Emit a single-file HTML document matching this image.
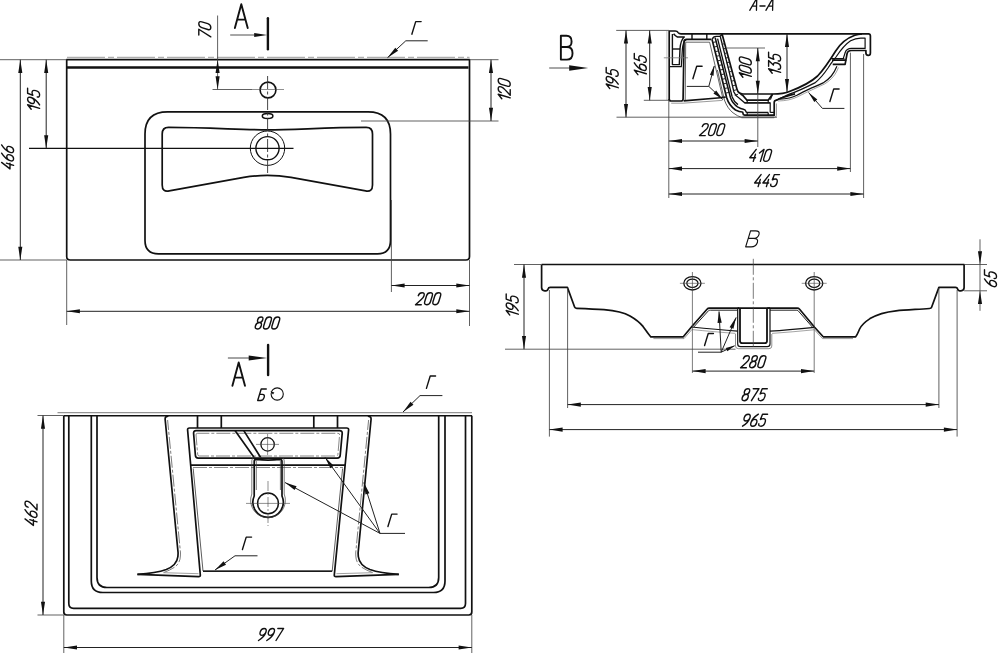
<!DOCTYPE html>
<html><head><meta charset="utf-8"><title>Drawing</title>
<style>
html,body{margin:0;padding:0;background:#fff;}
body{width:1000px;height:653px;overflow:hidden;font-family:"Liberation Sans",sans-serif;}
svg{display:block}
</style></head><body>
<svg width="1000" height="653" viewBox="0 0 1000 653" stroke-linecap="butt" stroke-linejoin="round">
<rect x="0" y="0" width="1000" height="653" fill="#ffffff"/>
<line x1="67" y1="57.3" x2="469.5" y2="57.3" stroke="#555" stroke-width="0.6" stroke-dasharray="38 3 6 3"/>
<path d="M66.7,59.7 H469.5 V256.5 Q469.5,260 466,260 H70.2 Q66.7,260 66.7,256.5 Z" stroke="#111111" stroke-width="1.7" fill="none" />
<line x1="67" y1="67.4" x2="468.5" y2="67.4" stroke="#111111" stroke-width="2.5" />
<path d="M145,134 Q145,111.8 167.5,111.8 H368 Q390.5,111.8 390.5,134 V240.5 Q390.5,253.8 377.5,253.8 H158.5 Q145,253.8 145,240.5 Z" stroke="#111111" stroke-width="1.7" fill="none" />
<path d="M162.2,134 Q162.2,127.4 168.5,127.4 C210,127.5 240,129.8 267.4,129.8 C295,129.8 325,127.5 366.2,127.4 Q372.5,127.4 372.5,134 L372.5,185 Q372.5,192.4 365.6,190.9 L291,177.3 Q267.4,173.6 243.8,177.3 L169.2,190.9 Q162.2,192.4 162.2,185 Z" stroke="#111111" stroke-width="1.7" fill="none" />
<circle cx="268" cy="90" r="7.9" stroke="#111111" stroke-width="1.6" fill="none"/>
<line x1="252" y1="89.5" x2="284" y2="89.5" stroke="#444" stroke-width="0.6" />
<ellipse cx="267.6" cy="116" rx="5.3" ry="2.5" stroke="#111111" stroke-width="1.5" fill="none"/>
<circle cx="267.5" cy="148.2" r="17.2" stroke="#111111" stroke-width="1.0" fill="none"/>
<circle cx="267.5" cy="148.2" r="11.6" stroke="#111111" stroke-width="1.35" fill="none"/>
<line x1="267.6" y1="76" x2="267.6" y2="173" stroke="#333" stroke-width="0.9" stroke-dasharray="13 2.5 3 2.5"/>
<line x1="29" y1="148.4" x2="293.5" y2="148.4" stroke="#111" stroke-width="1.15" />
<line x1="0" y1="59.7" x2="66.7" y2="59.7" stroke="#444444" stroke-width="0.85" />
<line x1="0" y1="260" x2="66.7" y2="260" stroke="#444444" stroke-width="0.85" />
<line x1="20.3" y1="59.7" x2="20.3" y2="260" stroke="#222" stroke-width="1.0" />
<polygon points="20.30,59.70 22.35,72.90 18.25,72.90" fill="#111"/>
<polygon points="20.30,260.00 18.25,246.80 22.35,246.80" fill="#111"/>
<g transform="translate(13.60,157.00) rotate(-90) scale(1.2000) skewX(-17)" stroke="#111" stroke-width="1.167" fill="none" stroke-linecap="round" stroke-linejoin="round">
<path transform="translate(-10.829,-10) scale(0.96,1)" d="M3.4,0 L0,7 L5,7 M4,4 L4,10" vector-effect="non-scaling-stroke" style="stroke-width:1.4"/>
<path transform="translate(-3.929,-10) scale(0.96,1)" d="M4.2,0 Q0,3.2 0,7.1 Q0,10 2.5,10 Q5,10 5,7.15 Q5,4.3 2.5,4.3 Q0.6,4.3 0.05,6.4" vector-effect="non-scaling-stroke" style="stroke-width:1.4"/>
<path transform="translate(2.971,-10) scale(0.96,1)" d="M4.2,0 Q0,3.2 0,7.1 Q0,10 2.5,10 Q5,10 5,7.15 Q5,4.3 2.5,4.3 Q0.6,4.3 0.05,6.4" vector-effect="non-scaling-stroke" style="stroke-width:1.4"/>
</g>
<line x1="46.2" y1="59.7" x2="46.2" y2="148.4" stroke="#222" stroke-width="1.0" />
<polygon points="46.20,59.70 48.25,72.90 44.15,72.90" fill="#111"/>
<polygon points="46.20,148.40 44.15,135.20 48.25,135.20" fill="#111"/>
<g transform="translate(39.60,100.00) rotate(-90) scale(1.2000) skewX(-17)" stroke="#111" stroke-width="1.167" fill="none" stroke-linecap="round" stroke-linejoin="round">
<path transform="translate(-9.869,-10) scale(0.96,1)" d="M0,3 L3,0 L3,10" vector-effect="non-scaling-stroke" style="stroke-width:1.4"/>
<path transform="translate(-4.889,-10) scale(0.96,1)" d="M0.8,10 Q5,6.8 5,2.9 Q5,0 2.5,0 Q0,0 0,2.85 Q0,5.7 2.5,5.7 Q4.4,5.7 4.95,3.6" vector-effect="non-scaling-stroke" style="stroke-width:1.4"/>
<path transform="translate(2.011,-10) scale(0.96,1)" d="M5,0 L0.6,0 L0.2,4.4 Q1.3,3.7 2.5,3.7 Q5,3.7 5,6.8 Q5,10 2.5,10 Q0,10 0,8" vector-effect="non-scaling-stroke" style="stroke-width:1.4"/>
</g>
<line x1="217.6" y1="15.5" x2="217.6" y2="89.5" stroke="#444444" stroke-width="0.85" />
<line x1="212.5" y1="89.5" x2="252" y2="89.5" stroke="#444444" stroke-width="0.85" />
<polygon points="217.60,59.70 219.65,72.90 215.55,72.90" fill="#111"/>
<polygon points="217.60,89.50 215.55,76.30 219.65,76.30" fill="#111"/>
<g transform="translate(210.80,29.80) rotate(-90) scale(1.2000) skewX(-17)" stroke="#111" stroke-width="1.167" fill="none" stroke-linecap="round" stroke-linejoin="round">
<path transform="translate(-7.379,-10) scale(0.96,1)" d="M0,0 L5,0 L1.6,10" vector-effect="non-scaling-stroke" style="stroke-width:1.4"/>
<path transform="translate(-0.479,-10) scale(0.96,1)" d="M0,2.5 Q0,0 2.5,0 Q5,0 5,2.5 L5,7.5 Q5,10 2.5,10 Q0,10 0,7.5 Z" vector-effect="non-scaling-stroke" style="stroke-width:1.4"/>
</g>
<line x1="469.5" y1="59.7" x2="498.5" y2="59.7" stroke="#444444" stroke-width="0.85" />
<line x1="361" y1="121" x2="498.5" y2="121" stroke="#444444" stroke-width="0.85" />
<line x1="491" y1="59.7" x2="491" y2="121" stroke="#222" stroke-width="1.0" />
<polygon points="491.00,59.70 493.05,72.90 488.95,72.90" fill="#111"/>
<polygon points="491.00,121.00 488.95,107.80 493.05,107.80" fill="#111"/>
<g transform="translate(510.20,89.50) rotate(-90) scale(1.2000) skewX(-17)" stroke="#111" stroke-width="1.167" fill="none" stroke-linecap="round" stroke-linejoin="round">
<path transform="translate(-9.869,-10) scale(0.96,1)" d="M0,3 L3,0 L3,10" vector-effect="non-scaling-stroke" style="stroke-width:1.4"/>
<path transform="translate(-4.889,-10) scale(0.96,1)" d="M0,2.5 Q0,0 2.5,0 Q5,0 5,2.5 Q5,4 3.6,5.6 L0,10 L5,10" vector-effect="non-scaling-stroke" style="stroke-width:1.4"/>
<path transform="translate(2.011,-10) scale(0.96,1)" d="M0,2.5 Q0,0 2.5,0 Q5,0 5,2.5 L5,7.5 Q5,10 2.5,10 Q0,10 0,7.5 Z" vector-effect="non-scaling-stroke" style="stroke-width:1.4"/>
</g>
<line x1="391.4" y1="200" x2="391.4" y2="292" stroke="#444444" stroke-width="0.85" />
<line x1="469.5" y1="260" x2="469.5" y2="326" stroke="#444444" stroke-width="0.85" />
<line x1="391.4" y1="285.5" x2="469.5" y2="285.5" stroke="#222" stroke-width="1.0" />
<polygon points="391.40,285.50 404.60,283.45 404.60,287.55" fill="#111"/>
<polygon points="469.50,285.50 456.30,287.55 456.30,283.45" fill="#111"/>
<g transform="translate(428.50,304.70) rotate(0) scale(1.2000) skewX(-17)" stroke="#111" stroke-width="1.167" fill="none" stroke-linecap="round" stroke-linejoin="round">
<path transform="translate(-10.829,-10) scale(0.96,1)" d="M0,2.5 Q0,0 2.5,0 Q5,0 5,2.5 Q5,4 3.6,5.6 L0,10 L5,10" vector-effect="non-scaling-stroke" style="stroke-width:1.4"/>
<path transform="translate(-3.929,-10) scale(0.96,1)" d="M0,2.5 Q0,0 2.5,0 Q5,0 5,2.5 L5,7.5 Q5,10 2.5,10 Q0,10 0,7.5 Z" vector-effect="non-scaling-stroke" style="stroke-width:1.4"/>
<path transform="translate(2.971,-10) scale(0.96,1)" d="M0,2.5 Q0,0 2.5,0 Q5,0 5,2.5 L5,7.5 Q5,10 2.5,10 Q0,10 0,7.5 Z" vector-effect="non-scaling-stroke" style="stroke-width:1.4"/>
</g>
<line x1="66.7" y1="260" x2="66.7" y2="325" stroke="#444444" stroke-width="0.85" />
<line x1="66.7" y1="311.3" x2="469.5" y2="311.3" stroke="#222" stroke-width="1.0" />
<polygon points="66.70,311.30 79.90,309.25 79.90,313.35" fill="#111"/>
<polygon points="469.50,311.30 456.30,313.35 456.30,309.25" fill="#111"/>
<g transform="translate(267.50,329.00) rotate(0) scale(1.2000) skewX(-17)" stroke="#111" stroke-width="1.167" fill="none" stroke-linecap="round" stroke-linejoin="round">
<path transform="translate(-10.829,-10) scale(0.96,1)" d="M2.5,0 Q4.7,0 4.7,2.3 Q4.7,4.6 2.5,4.6 Q0.3,4.6 0.3,2.3 Q0.3,0 2.5,0 M2.5,4.6 Q5,4.6 5,7.3 Q5,10 2.5,10 Q0,10 0,7.3 Q0,4.6 2.5,4.6" vector-effect="non-scaling-stroke" style="stroke-width:1.4"/>
<path transform="translate(-3.929,-10) scale(0.96,1)" d="M0,2.5 Q0,0 2.5,0 Q5,0 5,2.5 L5,7.5 Q5,10 2.5,10 Q0,10 0,7.5 Z" vector-effect="non-scaling-stroke" style="stroke-width:1.4"/>
<path transform="translate(2.971,-10) scale(0.96,1)" d="M0,2.5 Q0,0 2.5,0 Q5,0 5,2.5 L5,7.5 Q5,10 2.5,10 Q0,10 0,7.5 Z" vector-effect="non-scaling-stroke" style="stroke-width:1.4"/>
</g>
<line x1="267.9" y1="18.3" x2="267.9" y2="49.3" stroke="#111" stroke-width="2.4" stroke-linecap="round"/>
<line x1="230.2" y1="35" x2="256" y2="35" stroke="#222" stroke-width="0.8" />
<polygon points="267.20,35.00 254.20,37.10 254.20,32.90" fill="#111"/>
<g transform="translate(241.30,28.00) rotate(0) scale(2.3800) " stroke="#111" stroke-width="0.798" fill="none" stroke-linecap="round" stroke-linejoin="round">
<path transform="translate(-2.700,-10) scale(0.9,1)" d="M0,10 L3,0 L6,10 M1.05,6.5 L4.95,6.5" vector-effect="non-scaling-stroke" style="stroke-width:1.9"/>
</g>
<g transform="translate(416.50,34.20) rotate(0) scale(1.2600) skewX(-17)" stroke="#111" stroke-width="1.111" fill="none" stroke-linecap="round" stroke-linejoin="round">
<path transform="translate(-3.689,-10) scale(0.96,1)" d="M0,10 L0,0 L4.5,0" vector-effect="non-scaling-stroke" style="stroke-width:1.4"/>
</g>
<path d="M387.5,57.7 L405.8,40.8 H427.7" stroke="#222" stroke-width="1.0" fill="none" />
<polygon points="387.50,57.70 395.26,47.68 398.11,50.76" fill="#111"/>
<g transform="translate(763.00,10.30) rotate(0) scale(1.2000) skewX(-17)" stroke="#111" stroke-width="1.083" fill="none" stroke-linecap="round" stroke-linejoin="round">
<path transform="translate(-11.048,-10) scale(0.93,1)" d="M0,10 L3,0 L6,10 M1.05,6.5 L4.95,6.5" vector-effect="non-scaling-stroke" style="stroke-width:1.3"/>
<path transform="translate(-3.668,-10) scale(0.93,1)" d="M0,6.4 L4.6,6.4" vector-effect="non-scaling-stroke" style="stroke-width:1.3"/>
<path transform="translate(2.410,-10) scale(0.93,1)" d="M0,10 L3,0 L6,10 M1.05,6.5 L4.95,6.5" vector-effect="non-scaling-stroke" style="stroke-width:1.3"/>
</g>
<g transform="translate(566.70,59.60) rotate(0) scale(2.3800) " stroke="#111" stroke-width="0.798" fill="none" stroke-linecap="round" stroke-linejoin="round">
<path transform="translate(-2.450,-10) scale(0.98,1)" d="M0,0 L0,10 L2.6,10 Q5,10 5,7.3 Q5,4.7 2.6,4.7 L0,4.7 M0,0 L2.4,0 Q4.6,0 4.6,2.35 Q4.6,4.7 2.4,4.7" vector-effect="non-scaling-stroke" style="stroke-width:1.9"/>
</g>
<line x1="549.2" y1="68" x2="572" y2="68" stroke="#222" stroke-width="0.8" />
<polygon points="588.20,68.00 569.20,70.70 569.20,65.30" fill="#111"/>
<path d="M669.2,100 V31 H675.2 Q677.2,31 678.2,32.6 Q679,33.8 681,33.8 H868.4 Q870.4,33.8 870.4,36 V53 Q870.4,55.4 868.2,55.4 Q865.9,55.4 865.9,52.8 V50.5 H851.5 Q847.6,50.5 847,54 L845.9,60.1 H832" stroke="#111111" stroke-width="1.7" fill="none" />
<path d="M669.2,99 Q669.2,101 671,101 H681 Q683,101 683.1,99 L684,41.5 Q684.2,39.4 686.6,39.4 H711.3" stroke="#111111" stroke-width="1.7" fill="none" />
<path d="M669.6,66.6 H681.3 L682.4,49 Q683,41.5 686.4,39.4" stroke="#111111" stroke-width="1.2" fill="none" />
<path d="M672.4,34 V64.6 H679.3 L680,49 Q680.6,40 684.3,37 H677.4 Q675.6,36.4 673.6,33.8" stroke="#111111" stroke-width="1.4" fill="none" />
<line x1="672.4" y1="49" x2="680" y2="49" stroke="#111111" stroke-width="1.4" />
<line x1="663.8" y1="57.8" x2="688" y2="57.8" stroke="#777" stroke-width="0.8" />
<line x1="666.9" y1="31" x2="666.9" y2="100" stroke="#999" stroke-width="0.6" />
<line x1="692" y1="33.8" x2="692" y2="39.4" stroke="#111111" stroke-width="1.4" />
<line x1="706.8" y1="33.8" x2="706.8" y2="39.4" stroke="#111111" stroke-width="1.4" />
<path d="M685.2,100.5 L685.7,42.2 H709.6 L722.6,97.3" stroke="#333" stroke-width="0.75" fill="none" />
<path d="M683.6,100.8 L717.6,98 L725.6,97.2" stroke="#111111" stroke-width="1.7" fill="none" />
<path d="M671.2,103.2 H683 L722.4,100.4" stroke="#555" stroke-width="0.6" fill="none" />
<path d="M722,33.8 L736.9,89 Q738.3,94 743,94 H772.6 C780,94 786,93 790,91.2 C800,87.5 810,83 817.6,76 C825,68 831,58.5 835.5,51.2 C840,44 846,38.5 854.8,35.3 Q858,34.2 862,33.9" stroke="#111111" stroke-width="1.7" fill="none" />
<path d="M720.4,37 L728.8,70 L733.9,92 Q735.5,96 739,98 L744.6,102.8 H770.2" stroke="#111111" stroke-width="1.3" fill="none" />
<path d="M717.6,38.6 L725.4,70 L732.2,97 Q734,102 738,104.6" stroke="#111111" stroke-width="1.3" fill="none" />
<path d="M715.2,37.8 L723.4,70 L730.4,97.5 Q732.5,103.5 737.5,106.8 Q741,108.9 743.4,109.3 Q745.6,109.8 745.7,111 Q745.8,112.4 747.2,112.4 H768.2" stroke="#111111" stroke-width="1.5" fill="none" />
<path d="M712,39.4 L719.8,70 L726.6,97.5 Q729,105.5 735.5,110 Q739.5,112 742.2,112 Q743,112 743,113.6 Q743,115.2 744.6,115.2 H774.2 V102.4 Q774.2,100.6 776.4,100.2 C781,97.8 786,96 795,93.9" stroke="#111111" stroke-width="1.7" fill="none" />
<path d="M717.4,70 L724.4,100 Q727.5,108.5 733,112.8 Q738,116.6 741.6,117.3" stroke="#333" stroke-width="0.8" fill="none" />
<line x1="741.4" y1="117.4" x2="774.2" y2="117.4" stroke="#777" stroke-width="1.6" />
<path d="M774.2,117.4 Q776.4,117.4 776.4,115.2 V103.5" stroke="#777" stroke-width="0.8" fill="none" />
<path d="M712,39.4 Q713.2,36.4 716.4,36.4 H719.4 Q721.2,36.4 722,33.8" stroke="#111111" stroke-width="1.4" fill="none" />
<line x1="712.7905" y1="42.5" x2="716.3985" y2="41.7" stroke="#222" stroke-width="1.0" />
<line x1="721.79975" y1="44.5" x2="724.349" y2="43.7" stroke="#222" stroke-width="1.0" />
<line x1="713.9635" y1="47.1" x2="717.5715" y2="46.300000000000004" stroke="#222" stroke-width="1.0" />
<line x1="722.97045" y1="49.1" x2="725.591" y2="48.300000000000004" stroke="#222" stroke-width="1.0" />
<line x1="715.1365" y1="51.7" x2="718.7445" y2="50.900000000000006" stroke="#222" stroke-width="1.0" />
<line x1="724.1411499999999" y1="53.7" x2="726.833" y2="52.900000000000006" stroke="#222" stroke-width="1.0" />
<line x1="716.3095" y1="56.3" x2="719.9175" y2="55.5" stroke="#222" stroke-width="1.0" />
<line x1="725.3118499999999" y1="58.3" x2="728.075" y2="57.5" stroke="#222" stroke-width="1.0" />
<line x1="717.4825" y1="60.9" x2="721.0905" y2="60.1" stroke="#222" stroke-width="1.0" />
<line x1="726.48255" y1="62.9" x2="729.317" y2="62.1" stroke="#222" stroke-width="1.0" />
<line x1="718.6555" y1="65.5" x2="722.2635" y2="64.7" stroke="#222" stroke-width="1.0" />
<line x1="727.65325" y1="67.5" x2="730.559" y2="66.7" stroke="#222" stroke-width="1.0" />
<line x1="719.8285" y1="70.1" x2="723.4365" y2="69.3" stroke="#222" stroke-width="1.0" />
<line x1="728.82395" y1="72.1" x2="731.801" y2="71.3" stroke="#222" stroke-width="1.0" />
<line x1="721.0015" y1="74.69999999999999" x2="724.6095" y2="73.89999999999999" stroke="#222" stroke-width="1.0" />
<line x1="729.99465" y1="76.69999999999999" x2="733.043" y2="75.89999999999999" stroke="#222" stroke-width="1.0" />
<line x1="722.1745" y1="79.3" x2="725.7825" y2="78.5" stroke="#222" stroke-width="1.0" />
<line x1="731.16535" y1="81.3" x2="734.285" y2="80.5" stroke="#222" stroke-width="1.0" />
<line x1="723.3475" y1="83.9" x2="726.9555" y2="83.10000000000001" stroke="#222" stroke-width="1.0" />
<line x1="732.33605" y1="85.9" x2="735.527" y2="85.10000000000001" stroke="#222" stroke-width="1.0" />
<line x1="724.5205" y1="88.5" x2="728.1285" y2="87.7" stroke="#222" stroke-width="1.0" />
<line x1="733.50675" y1="90.5" x2="736.769" y2="89.7" stroke="#222" stroke-width="1.0" />
<line x1="725.6935" y1="93.1" x2="729.3015" y2="92.3" stroke="#222" stroke-width="1.0" />
<line x1="734.67745" y1="95.1" x2="738.011" y2="94.3" stroke="#222" stroke-width="1.0" />
<path d="M740.6,94 L743,95.6 L747,100.2 H768.2 L772.6,94" stroke="#111111" stroke-width="1.7" fill="none" />
<path d="M744.6,102.8 H770.2 V112.4" stroke="#111111" stroke-width="1.2" fill="none" />
<line x1="747.2" y1="100.2" x2="747.2" y2="102.8" stroke="#111111" stroke-width="1.2" />
<line x1="768.2" y1="100.2" x2="768.2" y2="102.8" stroke="#111111" stroke-width="1.2" />
<line x1="747.2" y1="112.4" x2="747.2" y2="115.2" stroke="#111111" stroke-width="1.2" />
<line x1="768.2" y1="112.4" x2="768.2" y2="115.2" stroke="#111111" stroke-width="1.2" />
<line x1="770.2" y1="112.4" x2="774.2" y2="112.4" stroke="#111111" stroke-width="1.2" />
<path d="M772.6,94 L770.4,99.6" stroke="#111111" stroke-width="1.2" fill="none" />
<path d="M776.4,100.2 C780,98 785,96.5 790,93.9 C796,92 804,88.4 814.8,82.9 C820,79 824.5,73.2 828,68 C831,63 834,59.5 836,57 C840,51 845,44.5 850.6,40.8 Q856,37.8 861.7,38.1 H865.1 V48.4 H851.5 Q846.5,48.4 845.2,52.5 L843.4,58.1" stroke="#111111" stroke-width="1.2" fill="none" />
<path d="M830.8,58.6 H844.4" stroke="#111111" stroke-width="1.2" fill="none" />
<path d="M845.9,60.1 L845.1,64.3 H832.7" stroke="#111111" stroke-width="1.7" fill="none" />
<path d="M836.9,66.3 C835,71 833,74 831.3,76 C828,80 825,81.8 823.1,82.9 C818,85.5 814,87 810.7,88.4 C805,91 800,93.5 796.9,95.3 C792,98 786,99 779.5,99.2" stroke="#111111" stroke-width="1.2" fill="none" />
<path d="M838.4,67.5 C836,74 832,79.5 824.5,84 C816,88 806,92.5 798,96.6 C792,99.6 786,100.8 778,101" stroke="#666" stroke-width="0.6" fill="none" />
<line x1="616.2" y1="30.4" x2="669" y2="30.4" stroke="#444444" stroke-width="0.85" />
<line x1="616.5" y1="117.2" x2="777" y2="117.2" stroke="#444444" stroke-width="0.85" />
<line x1="643.8" y1="100.3" x2="669" y2="100.3" stroke="#444444" stroke-width="0.85" />
<line x1="626" y1="30.4" x2="626" y2="117.2" stroke="#222" stroke-width="1.0" />
<polygon points="626.00,30.40 628.05,43.60 623.95,43.60" fill="#111"/>
<polygon points="626.00,117.20 623.95,104.00 628.05,104.00" fill="#111"/>
<line x1="649.7" y1="30.4" x2="649.7" y2="100.3" stroke="#222" stroke-width="1.0" />
<polygon points="649.70,30.40 651.75,43.60 647.65,43.60" fill="#111"/>
<polygon points="649.70,100.30 647.65,87.10 651.75,87.10" fill="#111"/>
<g transform="translate(618.20,79.30) rotate(-90) scale(1.2000) skewX(-17)" stroke="#111" stroke-width="1.167" fill="none" stroke-linecap="round" stroke-linejoin="round">
<path transform="translate(-9.869,-10) scale(0.96,1)" d="M0,3 L3,0 L3,10" vector-effect="non-scaling-stroke" style="stroke-width:1.4"/>
<path transform="translate(-4.889,-10) scale(0.96,1)" d="M0.8,10 Q5,6.8 5,2.9 Q5,0 2.5,0 Q0,0 0,2.85 Q0,5.7 2.5,5.7 Q4.4,5.7 4.95,3.6" vector-effect="non-scaling-stroke" style="stroke-width:1.4"/>
<path transform="translate(2.011,-10) scale(0.96,1)" d="M5,0 L0.6,0 L0.2,4.4 Q1.3,3.7 2.5,3.7 Q5,3.7 5,6.8 Q5,10 2.5,10 Q0,10 0,8" vector-effect="non-scaling-stroke" style="stroke-width:1.4"/>
</g>
<g transform="translate(646.30,65.40) rotate(-90) scale(1.2000) skewX(-17)" stroke="#111" stroke-width="1.167" fill="none" stroke-linecap="round" stroke-linejoin="round">
<path transform="translate(-9.869,-10) scale(0.96,1)" d="M0,3 L3,0 L3,10" vector-effect="non-scaling-stroke" style="stroke-width:1.4"/>
<path transform="translate(-4.889,-10) scale(0.96,1)" d="M4.2,0 Q0,3.2 0,7.1 Q0,10 2.5,10 Q5,10 5,7.15 Q5,4.3 2.5,4.3 Q0.6,4.3 0.05,6.4" vector-effect="non-scaling-stroke" style="stroke-width:1.4"/>
<path transform="translate(2.011,-10) scale(0.96,1)" d="M5,0 L0.6,0 L0.2,4.4 Q1.3,3.7 2.5,3.7 Q5,3.7 5,6.8 Q5,10 2.5,10 Q0,10 0,8" vector-effect="non-scaling-stroke" style="stroke-width:1.4"/>
</g>
<line x1="726.8" y1="48" x2="765" y2="48" stroke="#666" stroke-width="1.1" />
<line x1="757.8" y1="48" x2="757.8" y2="94" stroke="#222" stroke-width="1.0" />
<polygon points="757.80,48.00 759.85,61.20 755.75,61.20" fill="#111"/>
<polygon points="757.80,94.00 755.75,80.80 759.85,80.80" fill="#111"/>
<g transform="translate(751.30,68.00) rotate(-90) scale(1.2000) skewX(-17)" stroke="#111" stroke-width="1.167" fill="none" stroke-linecap="round" stroke-linejoin="round">
<path transform="translate(-9.869,-10) scale(0.96,1)" d="M0,3 L3,0 L3,10" vector-effect="non-scaling-stroke" style="stroke-width:1.4"/>
<path transform="translate(-4.889,-10) scale(0.96,1)" d="M0,2.5 Q0,0 2.5,0 Q5,0 5,2.5 L5,7.5 Q5,10 2.5,10 Q0,10 0,7.5 Z" vector-effect="non-scaling-stroke" style="stroke-width:1.4"/>
<path transform="translate(2.011,-10) scale(0.96,1)" d="M0,2.5 Q0,0 2.5,0 Q5,0 5,2.5 L5,7.5 Q5,10 2.5,10 Q0,10 0,7.5 Z" vector-effect="non-scaling-stroke" style="stroke-width:1.4"/>
</g>
<line x1="787" y1="33.8" x2="787" y2="92.3" stroke="#222" stroke-width="1.0" />
<polygon points="787.00,33.80 789.05,47.00 784.95,47.00" fill="#111"/>
<polygon points="787.00,92.30 784.95,79.10 789.05,79.10" fill="#111"/>
<g transform="translate(780.60,64.00) rotate(-90) scale(1.2000) skewX(-17)" stroke="#111" stroke-width="1.167" fill="none" stroke-linecap="round" stroke-linejoin="round">
<path transform="translate(-9.869,-10) scale(0.96,1)" d="M0,3 L3,0 L3,10" vector-effect="non-scaling-stroke" style="stroke-width:1.4"/>
<path transform="translate(-4.889,-10) scale(0.96,1)" d="M0,0 L5,0 L2.3,4 Q5,4 5,7 Q5,10 2.5,10 Q0,10 0,8" vector-effect="non-scaling-stroke" style="stroke-width:1.4"/>
<path transform="translate(2.011,-10) scale(0.96,1)" d="M5,0 L0.6,0 L0.2,4.4 Q1.3,3.7 2.5,3.7 Q5,3.7 5,6.8 Q5,10 2.5,10 Q0,10 0,8" vector-effect="non-scaling-stroke" style="stroke-width:1.4"/>
</g>
<line x1="668.8" y1="100" x2="668.8" y2="198" stroke="#444444" stroke-width="0.85" />
<line x1="757.8" y1="94" x2="757.8" y2="147" stroke="#444444" stroke-width="0.85" />
<line x1="850.4" y1="52.6" x2="850.4" y2="172" stroke="#444444" stroke-width="0.85" />
<line x1="863.6" y1="54" x2="863.6" y2="198" stroke="#444444" stroke-width="0.85" />
<line x1="668.8" y1="141" x2="757.8" y2="141" stroke="#222" stroke-width="1.0" />
<polygon points="668.80,141.00 682.00,138.95 682.00,143.05" fill="#111"/>
<polygon points="757.80,141.00 744.60,143.05 744.60,138.95" fill="#111"/>
<g transform="translate(712.50,135.60) rotate(0) scale(1.2000) skewX(-17)" stroke="#111" stroke-width="1.167" fill="none" stroke-linecap="round" stroke-linejoin="round">
<path transform="translate(-10.829,-10) scale(0.96,1)" d="M0,2.5 Q0,0 2.5,0 Q5,0 5,2.5 Q5,4 3.6,5.6 L0,10 L5,10" vector-effect="non-scaling-stroke" style="stroke-width:1.4"/>
<path transform="translate(-3.929,-10) scale(0.96,1)" d="M0,2.5 Q0,0 2.5,0 Q5,0 5,2.5 L5,7.5 Q5,10 2.5,10 Q0,10 0,7.5 Z" vector-effect="non-scaling-stroke" style="stroke-width:1.4"/>
<path transform="translate(2.971,-10) scale(0.96,1)" d="M0,2.5 Q0,0 2.5,0 Q5,0 5,2.5 L5,7.5 Q5,10 2.5,10 Q0,10 0,7.5 Z" vector-effect="non-scaling-stroke" style="stroke-width:1.4"/>
</g>
<line x1="668.8" y1="168.6" x2="850.4" y2="168.6" stroke="#222" stroke-width="1.0" />
<polygon points="668.80,168.60 682.00,166.55 682.00,170.65" fill="#111"/>
<polygon points="850.40,168.60 837.20,170.65 837.20,166.55" fill="#111"/>
<g transform="translate(760.50,161.40) rotate(0) scale(1.2000) skewX(-17)" stroke="#111" stroke-width="1.167" fill="none" stroke-linecap="round" stroke-linejoin="round">
<path transform="translate(-9.869,-10) scale(0.96,1)" d="M3.4,0 L0,7 L5,7 M4,4 L4,10" vector-effect="non-scaling-stroke" style="stroke-width:1.4"/>
<path transform="translate(-2.969,-10) scale(0.96,1)" d="M0,3 L3,0 L3,10" vector-effect="non-scaling-stroke" style="stroke-width:1.4"/>
<path transform="translate(2.011,-10) scale(0.96,1)" d="M0,2.5 Q0,0 2.5,0 Q5,0 5,2.5 L5,7.5 Q5,10 2.5,10 Q0,10 0,7.5 Z" vector-effect="non-scaling-stroke" style="stroke-width:1.4"/>
</g>
<line x1="668.8" y1="194" x2="863.6" y2="194" stroke="#222" stroke-width="1.0" />
<polygon points="668.80,194.00 682.00,191.95 682.00,196.05" fill="#111"/>
<polygon points="863.60,194.00 850.40,196.05 850.40,191.95" fill="#111"/>
<g transform="translate(766.50,186.60) rotate(0) scale(1.2000) skewX(-17)" stroke="#111" stroke-width="1.167" fill="none" stroke-linecap="round" stroke-linejoin="round">
<path transform="translate(-10.829,-10) scale(0.96,1)" d="M3.4,0 L0,7 L5,7 M4,4 L4,10" vector-effect="non-scaling-stroke" style="stroke-width:1.4"/>
<path transform="translate(-3.929,-10) scale(0.96,1)" d="M3.4,0 L0,7 L5,7 M4,4 L4,10" vector-effect="non-scaling-stroke" style="stroke-width:1.4"/>
<path transform="translate(2.971,-10) scale(0.96,1)" d="M5,0 L0.6,0 L0.2,4.4 Q1.3,3.7 2.5,3.7 Q5,3.7 5,6.8 Q5,10 2.5,10 Q0,10 0,8" vector-effect="non-scaling-stroke" style="stroke-width:1.4"/>
</g>
<g transform="translate(697.50,78.70) rotate(0) scale(1.2500) skewX(-17)" stroke="#111" stroke-width="1.120" fill="none" stroke-linecap="round" stroke-linejoin="round">
<path transform="translate(-3.689,-10) scale(0.96,1)" d="M0,10 L0,0 L4.5,0" vector-effect="non-scaling-stroke" style="stroke-width:1.4"/>
</g>
<path d="M686.8,86.4 H708.8" stroke="#222" stroke-width="1.0" fill="none" />
<line x1="708.8" y1="86.4" x2="714.3" y2="66" stroke="#222" stroke-width="1.0" />
<polygon points="714.30,65.50 713.59,75.65 709.92,74.69" fill="#111"/>
<line x1="708.8" y1="86.4" x2="722.8" y2="99.6" stroke="#222" stroke-width="1.0" />
<polygon points="722.80,99.60 713.42,93.51 716.17,90.60" fill="#111"/>
<g transform="translate(834.50,101.50) rotate(0) scale(1.2500) skewX(-17)" stroke="#111" stroke-width="1.120" fill="none" stroke-linecap="round" stroke-linejoin="round">
<path transform="translate(-3.689,-10) scale(0.96,1)" d="M0,10 L0,0 L4.5,0" vector-effect="non-scaling-stroke" style="stroke-width:1.4"/>
</g>
<path d="M808.6,92.5 L822.4,108.4 H844.4" stroke="#222" stroke-width="1.0" fill="none" />
<polygon points="808.60,92.50 817.32,99.50 814.30,102.12" fill="#111"/>
<g transform="translate(753.30,246.80) rotate(0) scale(1.6000) skewX(-17)" stroke="#111" stroke-width="0.719" fill="none" stroke-linecap="round" stroke-linejoin="round">
<path transform="translate(-4.779,-10) scale(1.3,1)" d="M0,0 L0,10 L2.6,10 Q5,10 5,7.3 Q5,4.7 2.6,4.7 L0,4.7 M0,0 L2.4,0 Q4.6,0 4.6,2.35 Q4.6,4.7 2.4,4.7" vector-effect="non-scaling-stroke" style="stroke-width:1.15"/>
</g>
<path d="M541.6,264.5 H964.1 V287.6 Q964.1,290.8 961,290.8 H959.6 Q958,290.8 957.6,289 Q957.2,287.4 955.5,287.4 H938.9 L931.6,307.2 Q931.2,308.4 929.5,308.5 C915,309.5 905,310 896,310.8 C885,312 876,315 870,318.6 C864,322.5 861,326 859.6,329 C858,332.5 857.3,335 855.7,336.8 H823.2 L814.6,327.3 L799.6,309.2 Q798.7,308.2 797.2,308.2 H767.3" stroke="#111111" stroke-width="1.7" fill="none" />
<path d="M541.6,264.5 V287.6 Q541.6,290.8 544.7,290.8 H546.1 Q547.7,290.8 548.1,289 Q548.5,287.4 550.2,287.4 H567.4 L574.6,307 Q575,308.2 576.7,308.3 C590,308.8 598,309.2 604,309.6 C616,310.6 625,313 630,316 C637,320 641,324 643,326.4 C646,330.5 648.5,334.5 650.8,336.8 H683.3 L691.4,327 L707,309.2 Q707.9,308.2 709.4,308.2 H739.2" stroke="#111111" stroke-width="1.7" fill="none" />
<path d="M693.4,327.4 L708.6,310.6 Q709.3,310.2 710.4,310.2 H737.7" stroke="#222" stroke-width="1.0" fill="none" />
<path d="M812.8,327.6 L798,310.6 Q797.3,310.2 796.2,310.2 H770" stroke="#222" stroke-width="1.0" fill="none" />
<path d="M653.4,338.6 H684 L692,329.4" stroke="#555" stroke-width="0.6" fill="none" />
<path d="M853,338.6 H822.5 L814.3,329.6" stroke="#555" stroke-width="0.6" fill="none" />
<path d="M691.4,327 C705,328.4 722,330 737.7,331.2" stroke="#111111" stroke-width="1.2" fill="none" />
<path d="M814.6,327.3 C802,328.5 786,330 770,331.2" stroke="#111111" stroke-width="1.2" fill="none" />
<path d="M692,329.6 C706,331 722,332.4 735.5,333.4" stroke="#666" stroke-width="0.6" fill="none" />
<path d="M814,329.8 C800,331.2 786,332.4 772,333.4" stroke="#666" stroke-width="0.6" fill="none" />
<line x1="737.7" y1="308.2" x2="770" y2="308.2" stroke="#111111" stroke-width="1.7" />
<path d="M740,308.2 V341 Q740,343.2 742.4,343.2 H764.6 Q767,343.2 767,341 V308.2" stroke="#111111" stroke-width="1.8" fill="none" />
<path d="M737.7,308.2 V344 Q737.7,346.7 740.6,346.7 H767.2 Q770,346.7 770,344 V308.2" stroke="#111111" stroke-width="1.2" fill="none" />
<path d="M735.5,334 V346 Q735.5,348.7 738.5,348.7 H769 Q771.8,348.7 771.8,346 V334" stroke="#444" stroke-width="0.6" fill="none" />
<line x1="753.3" y1="258.8" x2="753.3" y2="349" stroke="#444" stroke-width="0.7" stroke-dasharray="16 2.5 3 2.5"/>
<ellipse cx="692.4" cy="283.3" rx="8.6" ry="6.7" stroke="#111111" stroke-width="1.3" fill="none"/>
<ellipse cx="692.4" cy="283.3" rx="5.6" ry="4.2" stroke="#111111" stroke-width="1.2" fill="none"/>
<line x1="679.9" y1="283.3" x2="704.9" y2="283.3" stroke="#444" stroke-width="0.6" />
<line x1="692.4" y1="272" x2="692.4" y2="373" stroke="#444444" stroke-width="0.7" />
<ellipse cx="814.2" cy="283.3" rx="8.6" ry="6.7" stroke="#111111" stroke-width="1.3" fill="none"/>
<ellipse cx="814.2" cy="283.3" rx="5.6" ry="4.2" stroke="#111111" stroke-width="1.2" fill="none"/>
<line x1="801.7" y1="283.3" x2="826.7" y2="283.3" stroke="#444" stroke-width="0.6" />
<line x1="814.2" y1="272" x2="814.2" y2="373" stroke="#444444" stroke-width="0.7" />
<line x1="514" y1="264.5" x2="541.6" y2="264.5" stroke="#444444" stroke-width="0.85" />
<line x1="505" y1="349.2" x2="735.5" y2="349.2" stroke="#444444" stroke-width="0.85" />
<line x1="524" y1="264.5" x2="524" y2="349.2" stroke="#222" stroke-width="1.0" />
<polygon points="524.00,264.50 526.05,277.70 521.95,277.70" fill="#111"/>
<polygon points="524.00,349.20 521.95,336.00 526.05,336.00" fill="#111"/>
<g transform="translate(518.20,305.80) rotate(-90) scale(1.2000) skewX(-17)" stroke="#111" stroke-width="1.167" fill="none" stroke-linecap="round" stroke-linejoin="round">
<path transform="translate(-9.869,-10) scale(0.96,1)" d="M0,3 L3,0 L3,10" vector-effect="non-scaling-stroke" style="stroke-width:1.4"/>
<path transform="translate(-4.889,-10) scale(0.96,1)" d="M0.8,10 Q5,6.8 5,2.9 Q5,0 2.5,0 Q0,0 0,2.85 Q0,5.7 2.5,5.7 Q4.4,5.7 4.95,3.6" vector-effect="non-scaling-stroke" style="stroke-width:1.4"/>
<path transform="translate(2.011,-10) scale(0.96,1)" d="M5,0 L0.6,0 L0.2,4.4 Q1.3,3.7 2.5,3.7 Q5,3.7 5,6.8 Q5,10 2.5,10 Q0,10 0,8" vector-effect="non-scaling-stroke" style="stroke-width:1.4"/>
</g>
<line x1="964.1" y1="264.5" x2="987" y2="264.5" stroke="#444444" stroke-width="0.85" />
<line x1="964.1" y1="290.8" x2="987" y2="290.8" stroke="#444444" stroke-width="0.85" />
<line x1="980" y1="239.3" x2="980" y2="310.8" stroke="#444444" stroke-width="0.85" />
<polygon points="980.00,264.50 977.95,251.30 982.05,251.30" fill="#111"/>
<polygon points="980.00,290.80 982.05,304.00 977.95,304.00" fill="#111"/>
<g transform="translate(996.50,278.60) rotate(-90) scale(1.2000) skewX(-17)" stroke="#111" stroke-width="1.167" fill="none" stroke-linecap="round" stroke-linejoin="round">
<path transform="translate(-7.379,-10) scale(0.96,1)" d="M4.2,0 Q0,3.2 0,7.1 Q0,10 2.5,10 Q5,10 5,7.15 Q5,4.3 2.5,4.3 Q0.6,4.3 0.05,6.4" vector-effect="non-scaling-stroke" style="stroke-width:1.4"/>
<path transform="translate(-0.479,-10) scale(0.96,1)" d="M5,0 L0.6,0 L0.2,4.4 Q1.3,3.7 2.5,3.7 Q5,3.7 5,6.8 Q5,10 2.5,10 Q0,10 0,8" vector-effect="non-scaling-stroke" style="stroke-width:1.4"/>
</g>
<line x1="692.4" y1="371.1" x2="814.2" y2="371.1" stroke="#222" stroke-width="1.0" />
<polygon points="692.40,371.10 705.60,369.05 705.60,373.15" fill="#111"/>
<polygon points="814.20,371.10 801.00,373.15 801.00,369.05" fill="#111"/>
<g transform="translate(753.60,367.70) rotate(0) scale(1.2000) skewX(-17)" stroke="#111" stroke-width="1.167" fill="none" stroke-linecap="round" stroke-linejoin="round">
<path transform="translate(-10.829,-10) scale(0.96,1)" d="M0,2.5 Q0,0 2.5,0 Q5,0 5,2.5 Q5,4 3.6,5.6 L0,10 L5,10" vector-effect="non-scaling-stroke" style="stroke-width:1.4"/>
<path transform="translate(-3.929,-10) scale(0.96,1)" d="M2.5,0 Q4.7,0 4.7,2.3 Q4.7,4.6 2.5,4.6 Q0.3,4.6 0.3,2.3 Q0.3,0 2.5,0 M2.5,4.6 Q5,4.6 5,7.3 Q5,10 2.5,10 Q0,10 0,7.3 Q0,4.6 2.5,4.6" vector-effect="non-scaling-stroke" style="stroke-width:1.4"/>
<path transform="translate(2.971,-10) scale(0.96,1)" d="M0,2.5 Q0,0 2.5,0 Q5,0 5,2.5 L5,7.5 Q5,10 2.5,10 Q0,10 0,7.5 Z" vector-effect="non-scaling-stroke" style="stroke-width:1.4"/>
</g>
<line x1="567.6" y1="288" x2="567.6" y2="408" stroke="#444444" stroke-width="0.85" />
<line x1="938.9" y1="288" x2="938.9" y2="408" stroke="#444444" stroke-width="0.85" />
<line x1="567.6" y1="404.6" x2="938.9" y2="404.6" stroke="#222" stroke-width="1.0" />
<polygon points="567.60,404.60 580.80,402.55 580.80,406.65" fill="#111"/>
<polygon points="938.90,404.60 925.70,406.65 925.70,402.55" fill="#111"/>
<g transform="translate(754.30,400.70) rotate(0) scale(1.2000) skewX(-17)" stroke="#111" stroke-width="1.167" fill="none" stroke-linecap="round" stroke-linejoin="round">
<path transform="translate(-10.829,-10) scale(0.96,1)" d="M2.5,0 Q4.7,0 4.7,2.3 Q4.7,4.6 2.5,4.6 Q0.3,4.6 0.3,2.3 Q0.3,0 2.5,0 M2.5,4.6 Q5,4.6 5,7.3 Q5,10 2.5,10 Q0,10 0,7.3 Q0,4.6 2.5,4.6" vector-effect="non-scaling-stroke" style="stroke-width:1.4"/>
<path transform="translate(-3.929,-10) scale(0.96,1)" d="M0,0 L5,0 L1.6,10" vector-effect="non-scaling-stroke" style="stroke-width:1.4"/>
<path transform="translate(2.971,-10) scale(0.96,1)" d="M5,0 L0.6,0 L0.2,4.4 Q1.3,3.7 2.5,3.7 Q5,3.7 5,6.8 Q5,10 2.5,10 Q0,10 0,8" vector-effect="non-scaling-stroke" style="stroke-width:1.4"/>
</g>
<line x1="549.4" y1="290" x2="549.4" y2="436.6" stroke="#444444" stroke-width="0.85" />
<line x1="957.1" y1="290" x2="957.1" y2="436.6" stroke="#444444" stroke-width="0.85" />
<line x1="549.4" y1="429.6" x2="957.1" y2="429.6" stroke="#222" stroke-width="1.0" />
<polygon points="549.40,429.60 562.60,427.55 562.60,431.65" fill="#111"/>
<polygon points="957.10,429.60 943.90,431.65 943.90,427.55" fill="#111"/>
<g transform="translate(754.60,426.20) rotate(0) scale(1.2000) skewX(-17)" stroke="#111" stroke-width="1.167" fill="none" stroke-linecap="round" stroke-linejoin="round">
<path transform="translate(-10.829,-10) scale(0.96,1)" d="M0.8,10 Q5,6.8 5,2.9 Q5,0 2.5,0 Q0,0 0,2.85 Q0,5.7 2.5,5.7 Q4.4,5.7 4.95,3.6" vector-effect="non-scaling-stroke" style="stroke-width:1.4"/>
<path transform="translate(-3.929,-10) scale(0.96,1)" d="M4.2,0 Q0,3.2 0,7.1 Q0,10 2.5,10 Q5,10 5,7.15 Q5,4.3 2.5,4.3 Q0.6,4.3 0.05,6.4" vector-effect="non-scaling-stroke" style="stroke-width:1.4"/>
<path transform="translate(2.971,-10) scale(0.96,1)" d="M5,0 L0.6,0 L0.2,4.4 Q1.3,3.7 2.5,3.7 Q5,3.7 5,6.8 Q5,10 2.5,10 Q0,10 0,8" vector-effect="non-scaling-stroke" style="stroke-width:1.4"/>
</g>
<g transform="translate(709.00,345.50) rotate(0) scale(1.2000) skewX(-17)" stroke="#111" stroke-width="1.167" fill="none" stroke-linecap="round" stroke-linejoin="round">
<path transform="translate(-3.689,-10) scale(0.96,1)" d="M0,10 L0,0 L4.5,0" vector-effect="non-scaling-stroke" style="stroke-width:1.4"/>
</g>
<line x1="698" y1="352.2" x2="721.2" y2="352.2" stroke="#222" stroke-width="1.0" />
<line x1="721.2" y1="352.2" x2="719" y2="311.5" stroke="#222" stroke-width="1.0" />
<polygon points="719.00,311.00 721.74,322.87 717.54,323.09" fill="#111"/>
<line x1="721.2" y1="352.2" x2="736.2" y2="317.5" stroke="#222" stroke-width="1.0" />
<polygon points="736.20,317.00 733.43,328.86 729.56,327.22" fill="#111"/>
<line x1="721.2" y1="352.2" x2="734.7" y2="345.8" stroke="#222" stroke-width="1.0" />
<polygon points="734.70,345.60 727.41,351.17 725.82,347.94" fill="#111"/>
<line x1="57.5" y1="412.7" x2="472" y2="412.7" stroke="#444" stroke-width="0.7" />
<line x1="63.7" y1="415.7" x2="472" y2="415.7" stroke="#111111" stroke-width="1.6" />
<path d="M63.8,415.7 V612 Q63.8,615 66.8,615 H468.8 Q471.8,615 471.8,612 V415.7" stroke="#111111" stroke-width="1.7" fill="none" />
<path d="M68.8,415.7 V603.5 Q68.8,608.3 73.6,608.3 H460.7 Q465.5,608.3 465.5,603.5 V415.7" stroke="#111111" stroke-width="1.7" fill="none" />
<path d="M91.3,415.7 V581 Q91.3,592.5 102.8,592.5 H433.5 Q445,592.5 445,581 V415.7" stroke="#111111" stroke-width="1.7" fill="none" />
<path d="M97,415.7 V577.5 Q97,587.5 107,587.5 H428.7 Q438.7,587.5 438.7,577.5 V415.7" stroke="#111111" stroke-width="1.7" fill="none" />
<path d="M137.4,574.4 C150.0,573.6 160.5,571.6 166.3,569.5 C172.5,567.0 177.2,562.5 177.9,556.5 L178.1,553.0 L165.2,420.0 Q164.6,416.2 168.4,416.2" stroke="#111111" stroke-width="1.7" fill="none" />
<path d="M398.8,574.4 C386.2,573.6 375.7,571.6 369.9,569.5 C363.7,567.0 359.0,562.5 358.3,556.5 L358.1,553.0 L371.0,420.0 Q371.6,416.2 367.8,416.2" stroke="#111111" stroke-width="1.7" fill="none" />
<path d="M137.4,574.4 L198.6,576.7 Q200.5,576.7 200.3,574.8 L187.6,430 Q187.4,428 189.5,428 H346.7 Q348.8,428 348.6,430 L334.3,574.8 Q334.1,576.7 336,576.7 L398.8,574.4" stroke="#111111" stroke-width="1.7" fill="none" />
<path d="M163.6,572.6 C168.0,571.0 172.0,569.0 175.5,566.6 C179.0,563.5 180.2,560.0 180.4,556.0 L180.5,553.0 L167.6,420.0" stroke="#444" stroke-width="0.7" fill="none" stroke-dasharray="12 2 3 2"/>
<path d="M372.6,572.6 C368.2,571.0 364.2,569.0 360.7,566.6 C357.2,563.5 356.0,560.0 355.8,556.0 L355.7,553.0 L368.6,420.0" stroke="#444" stroke-width="0.7" fill="none" stroke-dasharray="12 2 3 2"/>
<path d="M163.6,572.7 L198.5,573.7" stroke="#888" stroke-width="0.8" fill="none" />
<path d="M372.6,572.7 L336.4,573.7" stroke="#888" stroke-width="0.8" fill="none" />
<line x1="197.5" y1="415.7" x2="197.5" y2="428" stroke="#111111" stroke-width="1.7" />
<line x1="221.3" y1="415.7" x2="221.3" y2="428" stroke="#111111" stroke-width="1.7" />
<line x1="313.8" y1="415.7" x2="313.8" y2="428" stroke="#111111" stroke-width="1.7" />
<line x1="337.5" y1="415.7" x2="337.5" y2="428" stroke="#111111" stroke-width="1.7" />
<path d="M193.6,433.4 Q193.4,430.7 196,430.7 H339.6 Q342.4,430.7 342.2,433.4 L340.2,455.4 Q340,458.1 337.2,458.1 H198.2 Q195.6,458.1 195.4,455.4 Z" stroke="#111111" stroke-width="1.7" fill="none" />
<path d="M196,434.9 Q195.9,433.3 197.6,433.3 H338 Q339.7,433.3 339.6,434.9 L337.9,454.4 Q337.8,456 336.1,456 H199.5 Q197.8,456 197.7,454.4 Z" stroke="#555" stroke-width="0.7" fill="none" stroke-dasharray="14 2 3 2"/>
<line x1="191" y1="465.2" x2="345.2" y2="465.2" stroke="#111111" stroke-width="1.7" />
<path d="M193.2,468.5 L203,571 H332.2 L342.6,468.5" stroke="#333" stroke-width="0.8" fill="none" />
<line x1="203" y1="571.2" x2="332.2" y2="571.2" stroke="#1a1a1a" stroke-width="1.5" />
<path d="M193,467.5 H343" stroke="#555" stroke-width="0.7" fill="none" stroke-dasharray="14 2 3 2"/>
<path d="M235,430.6 L255,458.8 M243.8,430.6 L261.4,458.8" stroke="#111111" stroke-width="1.7" fill="none" />
<path d="M254.2,461.5 V496 A15.2,15.2 0 1 0 282,496 V461.5 Q282,459.3 279.8,459.3 Q268,460.8 256.4,459.3 Q254.2,459.3 254.2,461.5 Z" stroke="#111111" stroke-width="1.7" fill="none" />
<path d="M251.8,494 V460.5 Q251.8,457.4 255,457.4 H281 Q284.2,457.4 284.2,460.5 V494 A17.4,17.4 0 1 1 251.8,494" stroke="#444" stroke-width="0.7" fill="none" />
<line x1="256.3" y1="461" x2="256.3" y2="490" stroke="#444" stroke-width="0.7" />
<line x1="280.4" y1="461" x2="280.4" y2="490" stroke="#444" stroke-width="0.7" />
<circle cx="268" cy="503.4" r="10.4" stroke="#111111" stroke-width="1.5" fill="none"/>
<line x1="246" y1="503.4" x2="290" y2="503.4" stroke="#444" stroke-width="0.6" />
<line x1="268" y1="481" x2="268" y2="526" stroke="#444" stroke-width="0.6" stroke-dasharray="10 2 2 2"/>
<circle cx="267.6" cy="444.4" r="6.7" stroke="#111111" stroke-width="1.3" fill="none"/>
<line x1="256" y1="444.4" x2="279" y2="444.4" stroke="#444" stroke-width="0.6" />
<line x1="267.6" y1="434" x2="267.6" y2="455" stroke="#444" stroke-width="0.6" />
<line x1="37.5" y1="415.5" x2="63.7" y2="415.5" stroke="#444444" stroke-width="0.85" />
<line x1="37.5" y1="615" x2="63.7" y2="615" stroke="#444444" stroke-width="0.85" />
<line x1="43" y1="415.5" x2="43" y2="615" stroke="#222" stroke-width="1.0" />
<polygon points="43.00,415.50 45.05,428.70 40.95,428.70" fill="#111"/>
<polygon points="43.00,615.00 40.95,601.80 45.05,601.80" fill="#111"/>
<g transform="translate(37.00,513.50) rotate(-90) scale(1.2000) skewX(-17)" stroke="#111" stroke-width="1.167" fill="none" stroke-linecap="round" stroke-linejoin="round">
<path transform="translate(-10.829,-10) scale(0.96,1)" d="M3.4,0 L0,7 L5,7 M4,4 L4,10" vector-effect="non-scaling-stroke" style="stroke-width:1.4"/>
<path transform="translate(-3.929,-10) scale(0.96,1)" d="M4.2,0 Q0,3.2 0,7.1 Q0,10 2.5,10 Q5,10 5,7.15 Q5,4.3 2.5,4.3 Q0.6,4.3 0.05,6.4" vector-effect="non-scaling-stroke" style="stroke-width:1.4"/>
<path transform="translate(2.971,-10) scale(0.96,1)" d="M0,2.5 Q0,0 2.5,0 Q5,0 5,2.5 Q5,4 3.6,5.6 L0,10 L5,10" vector-effect="non-scaling-stroke" style="stroke-width:1.4"/>
</g>
<line x1="63.8" y1="615" x2="63.8" y2="653" stroke="#444444" stroke-width="0.85" />
<line x1="471.8" y1="615" x2="471.8" y2="653" stroke="#444444" stroke-width="0.85" />
<line x1="63.8" y1="647.5" x2="471.8" y2="647.5" stroke="#222" stroke-width="1.0" />
<polygon points="63.80,647.50 77.00,645.45 77.00,649.55" fill="#111"/>
<polygon points="471.80,647.50 458.60,649.55 458.60,645.45" fill="#111"/>
<g transform="translate(270.60,640.50) rotate(0) scale(1.2000) skewX(-17)" stroke="#111" stroke-width="1.167" fill="none" stroke-linecap="round" stroke-linejoin="round">
<path transform="translate(-10.829,-10) scale(0.96,1)" d="M0.8,10 Q5,6.8 5,2.9 Q5,0 2.5,0 Q0,0 0,2.85 Q0,5.7 2.5,5.7 Q4.4,5.7 4.95,3.6" vector-effect="non-scaling-stroke" style="stroke-width:1.4"/>
<path transform="translate(-3.929,-10) scale(0.96,1)" d="M0.8,10 Q5,6.8 5,2.9 Q5,0 2.5,0 Q0,0 0,2.85 Q0,5.7 2.5,5.7 Q4.4,5.7 4.95,3.6" vector-effect="non-scaling-stroke" style="stroke-width:1.4"/>
<path transform="translate(2.971,-10) scale(0.96,1)" d="M0,0 L5,0 L1.6,10" vector-effect="non-scaling-stroke" style="stroke-width:1.4"/>
</g>
<line x1="268.1" y1="344.9" x2="268.1" y2="375" stroke="#111" stroke-width="2.4" stroke-linecap="round"/>
<line x1="227.9" y1="358" x2="250" y2="358" stroke="#333" stroke-width="0.9" />
<polygon points="267.20,358.00 248.70,360.50 248.70,355.50" fill="#111"/>
<g transform="translate(238.70,385.80) rotate(0) scale(2.3300) " stroke="#111" stroke-width="0.815" fill="none" stroke-linecap="round" stroke-linejoin="round">
<path transform="translate(-2.700,-10) scale(0.9,1)" d="M0,10 L3,0 L6,10 M1.05,6.5 L4.95,6.5" vector-effect="non-scaling-stroke" style="stroke-width:1.9"/>
</g>
<g transform="translate(262.20,400.50) rotate(0) scale(1.1500) skewX(-17)" stroke="#111" stroke-width="1.217" fill="none" stroke-linecap="round" stroke-linejoin="round">
<path transform="translate(-3.929,-10) scale(0.96,1)" d="M4.6,0 L0,0 L0,10 L2.6,10 Q5,10 5,7.3 Q5,4.7 2.6,4.7 L0,4.7" vector-effect="non-scaling-stroke" style="stroke-width:1.4"/>
</g>
<circle cx="277.2" cy="394" r="6.1" stroke="#111111" stroke-width="1.1" fill="none"/>
<polygon points="270.40,391.20 274.36,392.51 272.99,394.48" fill="#111"/>
<g transform="translate(431.00,388.40) rotate(0) scale(1.2400) skewX(-17)" stroke="#111" stroke-width="1.129" fill="none" stroke-linecap="round" stroke-linejoin="round">
<path transform="translate(-3.689,-10) scale(0.96,1)" d="M0,10 L0,0 L4.5,0" vector-effect="non-scaling-stroke" style="stroke-width:1.4"/>
</g>
<path d="M403,412 L420,395.6 H442.4" stroke="#222" stroke-width="1.0" fill="none" />
<polygon points="403.00,412.00 410.54,401.81 413.45,404.83" fill="#111"/>
<g transform="translate(247.00,549.50) rotate(0) scale(1.2400) skewX(-17)" stroke="#111" stroke-width="1.129" fill="none" stroke-linecap="round" stroke-linejoin="round">
<path transform="translate(-3.689,-10) scale(0.96,1)" d="M0,10 L0,0 L4.5,0" vector-effect="non-scaling-stroke" style="stroke-width:1.4"/>
</g>
<path d="M215,570 L235,555.8 H257.5" stroke="#222" stroke-width="1.0" fill="none" />
<polygon points="215.00,570.00 223.57,561.34 226.00,564.77" fill="#111"/>
<g transform="translate(392.50,526.50) rotate(0) scale(1.2400) skewX(-17)" stroke="#111" stroke-width="1.129" fill="none" stroke-linecap="round" stroke-linejoin="round">
<path transform="translate(-3.689,-10) scale(0.96,1)" d="M0,10 L0,0 L4.5,0" vector-effect="non-scaling-stroke" style="stroke-width:1.4"/>
</g>
<line x1="380" y1="533.4" x2="405" y2="533.4" stroke="#222" stroke-width="1.0" />
<line x1="380" y1="533.4" x2="285" y2="482.5" stroke="#222" stroke-width="1.0" />
<polygon points="285.00,482.50 296.57,486.32 294.59,490.02" fill="#111"/>
<line x1="380" y1="533.4" x2="325" y2="457.3" stroke="#222" stroke-width="1.0" />
<polygon points="325.00,457.30 333.73,465.80 330.33,468.26" fill="#111"/>
<line x1="380" y1="533.4" x2="363.8" y2="482.5" stroke="#222" stroke-width="1.0" />
<polygon points="363.80,482.50 369.44,493.30 365.44,494.57" fill="#111"/>
</svg>
</body></html>
